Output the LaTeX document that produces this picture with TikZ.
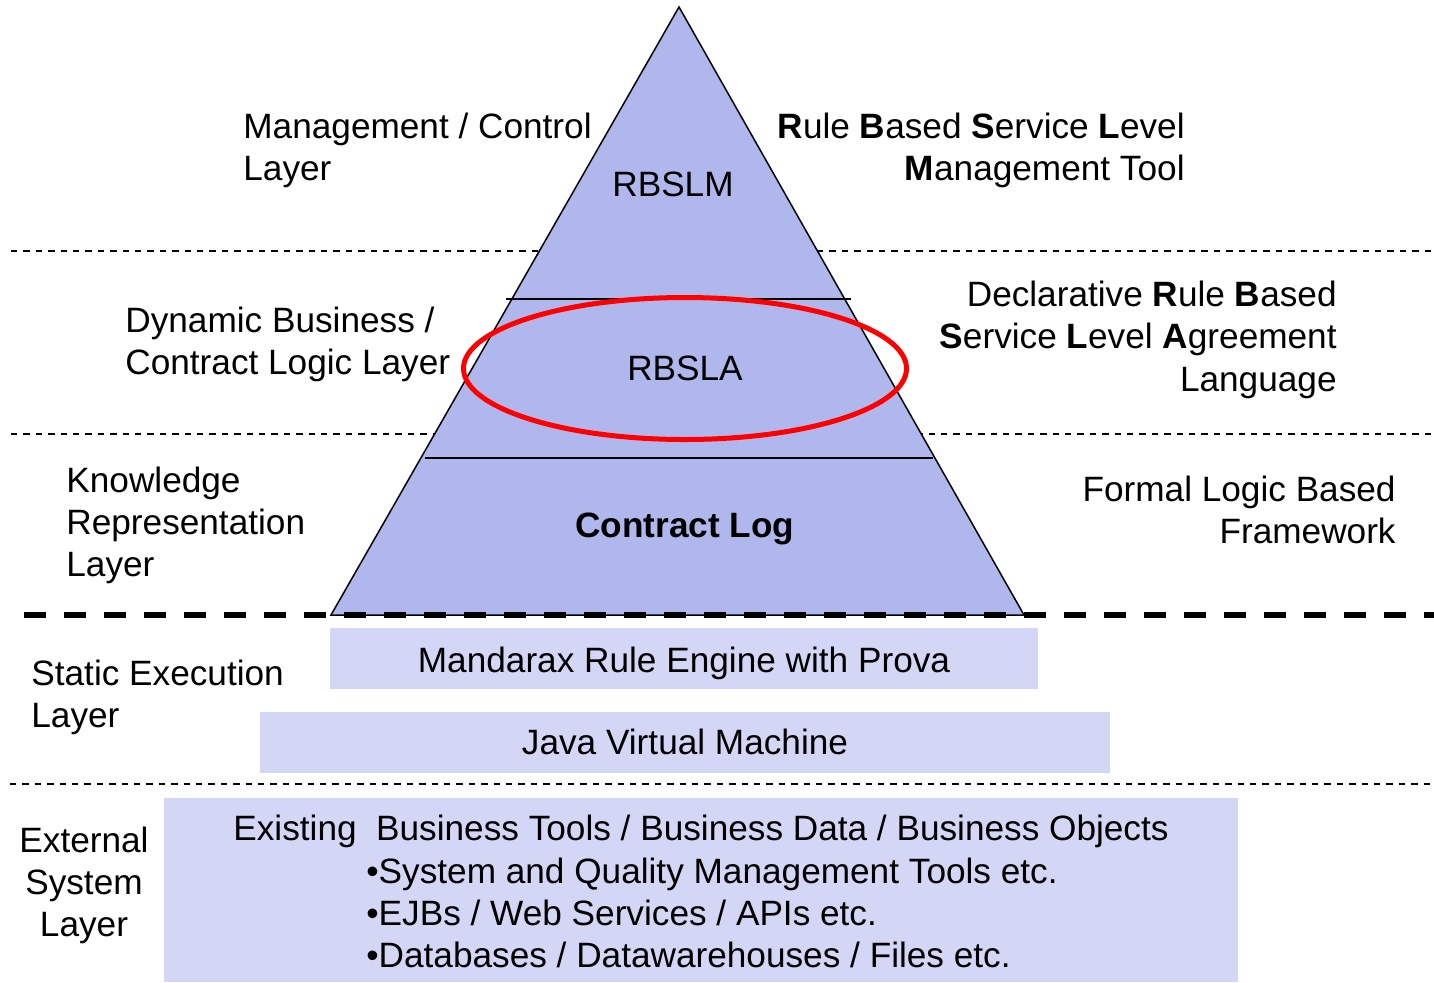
\documentclass[tikz,border=0pt]{standalone}
\usepackage{fontspec}
\setsansfont{Liberation Sans}
\usetikzlibrary{positioning}
\definecolor{pyramidblue}{RGB}{175,183,236}
\definecolor{layerblue}{RGB}{211,214,245}

\begin{document}
\begin{tikzpicture}[x=0.5pt,y=-0.5pt,font=\sffamily\fontsize{17.6pt}{21.15pt}\selectfont,
    txt/.style={inner sep=0pt},
    sepline/.style={line width=0.75pt,dash pattern=on 3.2pt off 3pt},
    mainsep/.style={line width=3pt,dash pattern=on 11pt off 9pt},
    edge/.style={line width=0.75pt}]
    \useasboundingbox (0,0) rectangle (1434,982);
    % thin layer separators (behind the pyramid)
    \draw[sepline] (11,251) -- (1432,251);
    \draw[sepline] (11,434) -- (1432,434);
    \draw[sepline] (10,784) -- (1434,784);
    % pyramid
    \coordinate (apex) at (679,7);
    \coordinate (baseleft) at (331,615);
    \coordinate (baseright) at (1024,615);
    \draw[edge, fill=pyramidblue] (apex) -- (baseleft) -- (baseright) -- cycle;
    \draw[edge] (506,299) -- (851,299);
    \draw[edge] (425,458) -- (933,458);
    \draw[mainsep] (24,615) -- (1434,615);
    % execution and external boxes
    \fill[layerblue] (330,628) rectangle (1038,689);
    \fill[layerblue] (260,712) rectangle (1110,773);
    \fill[layerblue] (164,798) rectangle (1238,982);
    % highlight
    \draw[red, line width=2.5pt] (685,368.5) ellipse [x radius=221.5, y radius=71];

    % multi-line texts are anchored at the baseline of their last line
    \node (mgmtlayer) [txt, anchor=base west, align=left] at (243,180.3) {Management / Control\\Layer};
    \node (rbslmtext) [txt, anchor=base east, align=right] at (1185,180.3) {\textbf{R}ule \textbf{B}ased \textbf{S}ervice \textbf{L}evel\\\textbf{M}anagement Tool};
    \node (rbslm) [txt] at (673,184) {RBSLM};
    \node (dynlayer) [txt, anchor=base west, align=left] at (125,374.3) {Dynamic Business /\\Contract Logic Layer};
    \node (rbslatext) [txt, anchor=base east, align=right] at (1337,391) {Declarative \textbf{R}ule \textbf{B}ased\\\textbf{S}ervice \textbf{L}evel \textbf{A}greement\\Language};
    \node (rbsla) [txt] at (685,368) {RBSLA};
    \node (kreplayer) [txt, anchor=base west, align=left] at (66,576.6) {Knowledge\\Representation\\Layer};
    \node (contractlog) [txt, anchor=base] at (685,537) {\textbf{Contract Log}};
    \node (formaltext) [txt, anchor=base east, align=right] at (1396,543.3) {Formal Logic Based\\Framework};
    \node (statlayer) [txt, anchor=base west, align=left] at (31,727.3) {Static Execution\\Layer};
    \node (mandarax) [txt, anchor=base] at (684,672) {Mandarax Rule Engine with Prova};
    \node (jvm) [txt, anchor=base] at (685,754) {Java Virtual Machine};
    \node (extlayer) [txt, anchor=base, align=center] at (84,936.6) {External\\System\\Layer};
    \node (existing) [txt, anchor=base] at (701,840) {Existing~ Business Tools / Business Data / Business Objects};
    \node (systems) [txt, anchor=base west, align=left] at (366,967.6) {•System and Quality Management Tools etc.\\•EJBs / Web Services / APIs etc.\\•Databases / Datawarehouses / Files etc.};
\end{tikzpicture}
\end{document}
